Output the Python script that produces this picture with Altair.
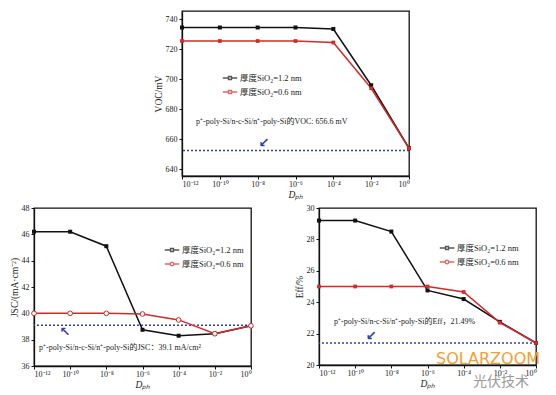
import json
import pandas as pd
import altair as alt

# ---------------- data ----------------
D = [1e-12, 1e-10, 1e-8, 1e-6, 1e-4, 1e-2, 1e0]
x_tick_labels = ["10⁻¹²", "10⁻¹⁰", "10⁻⁸", "10⁻⁶", "10⁻⁴", "10⁻²", "10⁰"]
series = ["厚度SiO₂=1.2 nm", "厚度SiO₂=0.6 nm"]

voc_12 = [734.5, 734.5, 734.5, 734.5, 733.5, 696.0, 654.0]
voc_06 = [725.5, 725.5, 725.5, 725.5, 724.5, 694.0, 654.0]
voc_ref = [652.5]
voc_ticks = [640, 660, 680, 700, 720, 740]

jsc_12 = [46.2, 46.2, 45.1, 38.75, 38.3, 38.45, 39.05]
jsc_06 = [40.0, 40.0, 40.0, 39.95, 39.5, 38.45, 39.05]
jsc_ref = [39.1]
jsc_ticks = [36, 38, 40, 42, 44, 46, 48]

eff_12 = [29.2, 29.2, 28.5, 24.75, 24.2, 22.75, 21.4]
eff_06 = [25.0, 25.0, 25.0, 25.0, 24.65, 22.7, 21.4]
eff_ref = [21.4]
eff_ticks = [20, 22, 24, 26, 28, 30]

voc_note = "p⁺-poly-Si/n-c-Si/n⁺-poly-Si的VOC: 656.6 mV"
jsc_note = "p⁺-poly-Si/n-c-Si/n⁺-poly-Si的JSC：39.1 mA/cm²"
eff_note = "p⁺-poly-Si/n-c-Si/n⁺-poly-Si的Eff，21.49%"

# ---------------- style ----------------
FONT = "Liberation Serif, Noto Sans CJK SC"
BLACK = "#111111"
RED = "#d42a2a"
BLUE = "#2f3fb0"
color_scale = alt.Scale(domain=series, range=[BLACK, RED])

SQ_PATH = "M-1,0H-0.2M0.2,0H1M-0.2,-0.2H0.2V0.2H-0.2Z"
CI_PATH = ("M-1,0H-0.25M0.25,0H1M0.25,0A0.25,0.25 0 1,1 -0.25,0"
           "A0.25,0.25 0 1,1 0.25,0Z")

label_expr = json.dumps(x_tick_labels, ensure_ascii=False) + \
    "[round((log(datum.value)/LN10+12)/2)]"


def panel(v12, v06, ref, ticks, ydomain, ytitle, w, h, note, note_x, note_y,
          arrow, arrow_x, arrow_y, lx, ly, legend_shapes, red_open):
    df = pd.DataFrame({
        "D": D + D,
        "v": v12 + v06,
        "s": [series[0]] * len(D) + [series[1]] * len(D),
    })
    xenc = alt.X("D:Q",
                 scale=alt.Scale(type="log", domain=[1e-12, 1], nice=False),
                 axis=alt.Axis(values=D, labelExpr=label_expr, title="Dₚₕ",
                               titleFontStyle="italic", labelPadding=1,
                               titlePadding=1))
    yenc = alt.Y("v:Q", scale=alt.Scale(domain=ydomain, nice=False, zero=False),
                 axis=alt.Axis(values=ticks, title=ytitle))
    base = alt.Chart(df).encode(x=xenc, y=yenc)
    ser_b = base.transform_filter(alt.datum.s == series[0])
    ser_r = base.transform_filter(alt.datum.s == series[1])

    line_b = ser_b.mark_line(strokeWidth=1.5, color=BLACK)
    line_r = ser_r.mark_line(strokeWidth=1.5, color=RED)
    pts_b = ser_b.mark_point(shape="square", filled=True, size=16, opacity=1,
                             color=BLACK)
    if red_open:
        pts_r = ser_r.mark_point(shape="circle", filled=False, fill="white",
                                 size=22, strokeWidth=1, opacity=1, color=RED)
    else:
        pts_r = ser_r.mark_point(shape="square", filled=True, size=14,
                                 opacity=1, color=RED)

    leg = dict(title=None, orient="none", legendX=lx, legendY=ly,
               labelFont=FONT, labelFontSize=8.5, labelColor="#222",
               symbolSize=210, symbolStrokeWidth=1.5, rowPadding=1,
               labelOffset=2)
    legend_layer = base.transform_filter("false").mark_point(strokeWidth=1.5).encode(
        color=alt.Color("s:N", scale=color_scale, legend=alt.Legend(**leg)),
        shape=alt.Shape("s:N", scale=alt.Scale(domain=series, range=legend_shapes),
                        legend=alt.Legend(**leg)),
    )

    rule = alt.Chart(pd.DataFrame({"v": ref})).mark_rule(
        color=BLUE, strokeDash=[2, 2], strokeWidth=1.6).encode(y=yenc)

    txt = alt.Chart(pd.DataFrame({"D": [note_x], "v": [note_y], "t": [note]})).mark_text(
        align="left", baseline="middle", font=FONT, fontSize=8, color="#222"
    ).encode(x=xenc, y=yenc, text="t:N")

    arr = alt.Chart(pd.DataFrame({"D": [arrow_x], "v": [arrow_y], "t": [arrow]})).mark_text(
        align="center", baseline="middle", font="DejaVu Sans", fontSize=13,
        fontWeight="bold", color=BLUE
    ).encode(x=xenc, y=yenc, text="t:N")

    return alt.layer(rule, line_b, line_r, pts_b, pts_r, legend_layer, txt, arr
                     ).properties(width=w, height=h)


top = panel(voc_12, voc_06, voc_ref, voc_ticks, [635.5, 745.5], "VOC/mV",
            227, 165, voc_note, 10 ** -11.26, 671.5, "↙", 10 ** -7.67, 657.5,
            40, 59, [SQ_PATH, SQ_PATH], False)

left = panel(jsc_12, jsc_06, jsc_ref, jsc_ticks, [36, 48], "JSC/(mA·cm⁻²)",
             217, 158, jsc_note, 10 ** -11.72, 37.35, "↖", 10 ** -10.29, 38.6,
             130, 34, [SQ_PATH, CI_PATH], True)

right_base = panel(eff_12, eff_06, eff_ref, eff_ticks, [20, 30], "Eff/%",
                   217, 157, eff_note, 10 ** -11.17, 22.74, "↙", 10 ** -9.12, 21.85,
                   120, 32, [SQ_PATH, CI_PATH], False)

wm1 = alt.Chart(pd.DataFrame({"t": ["SOLARZOOM"]})).mark_text(
    font="DejaVu Sans", fontSize=16, color="#f0a030", align="center",
    baseline="middle").encode(x=alt.value(169), y=alt.value(151), text="t:N")
wm2 = alt.Chart(pd.DataFrame({"t": ["光伏技术"]})).mark_text(
    font="Noto Sans CJK SC", fontSize=14, color="#9a9a9a", align="center",
    baseline="middle").encode(x=alt.value(182), y=alt.value(174), text="t:N")
right = alt.layer(right_base, wm1, wm2)

spacer = alt.Chart(pd.DataFrame({"a": [0]})).mark_point(opacity=0).encode(
    x=alt.value(0), y=alt.value(0)).properties(
    width=118, height=20, view=alt.ViewBackground(strokeOpacity=0))

row1 = alt.hconcat(spacer, top, spacing=0).resolve_scale(
    color="independent", shape="independent").resolve_legend(
    color="independent", shape="independent")
row2 = alt.hconcat(left, right, spacing=37).resolve_scale(
    color="independent", shape="independent").resolve_legend(
    color="independent", shape="independent")

chart = alt.vconcat(row1, row2, spacing=3).resolve_scale(
    color="independent", shape="independent").resolve_legend(
    color="independent", shape="independent").properties(
    padding={"left": 0, "top": 0, "right": 0, "bottom": 0}
).configure_view(
    stroke=BLACK, strokeWidth=1.3
).configure_axis(
    grid=False, domainColor=BLACK, domainWidth=1.3, tickColor=BLACK,
    tickSize=3, labelFont=FONT, labelFontSize=8, labelColor="#222",
    titleFont=FONT, titleFontSize=9.5, titleFontWeight="normal",
    titleColor="#222", labelPadding=2, titlePadding=2
)

chart.save("out.html", embed_options={"renderer": "svg", "actions": False})
